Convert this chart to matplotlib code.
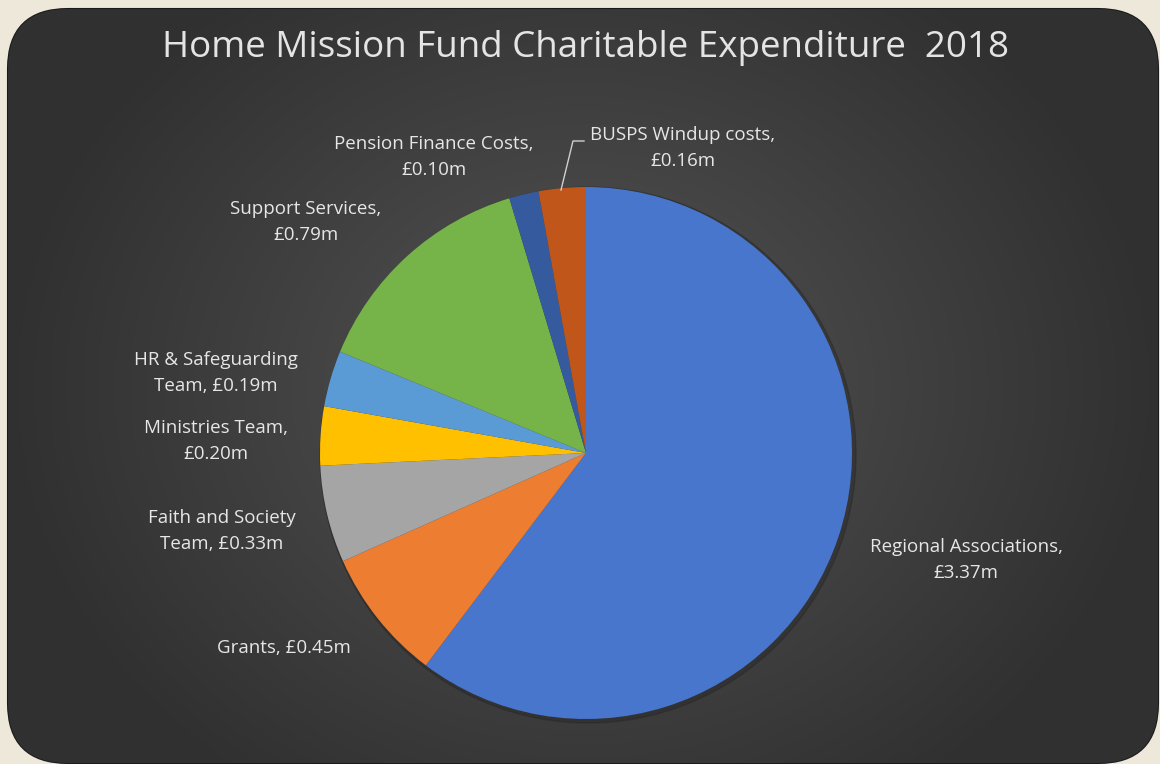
import numpy as np
import matplotlib
matplotlib.use("Agg")
import matplotlib.pyplot as plt
from matplotlib.patches import FancyBboxPatch

# data (in £m), clockwise from 12 o'clock
categories = ["Regional Associations", "Grants", "Faith and Society Team",
              "Ministries Team", "HR & Safeguarding Team", "Support Services",
              "Pension Finance Costs", "BUSPS Windup costs"]
values = [3.37, 0.45, 0.33, 0.20, 0.19, 0.79, 0.10, 0.16]
labels = ["Regional Associations,\n£3.37m", "Grants, £0.45m",
          "Faith and Society\nTeam, £0.33m", "Ministries Team,\n£0.20m",
          "HR & Safeguarding\nTeam, £0.19m", "Support Services,\n£0.79m",
          "Pension Finance Costs,\n£0.10m", "BUSPS Windup costs,\n£0.16m"]
colors = ["#4876CD", "#ED7D31", "#A5A5A5", "#FFC000",
          "#5B9BD5", "#76B44A", "#355A9E", "#C0561A"]
# label centres in pixels (x, y from top)
label_pos = [(966, 560), (284, 648), (222, 531), (216, 441),
             (216, 373), (306, 222), (434, 157), (683, 148)]

W, H = 1160, 764
fig = plt.figure(figsize=(11.6, 7.64), dpi=100)
fig.patch.set_facecolor("#eee8da")
ax = fig.add_axes([0, 0, 1, 1])

# rounded dark panel with soft radial gradient
box = FancyBboxPatch((8, 1), 1150, 754, boxstyle="round,pad=0,rounding_size=60",
                     facecolor="#3a3a3a", edgecolor="#1a1a1a", lw=1.5, zorder=1)
ax.add_patch(box)
gx, gy = np.meshgrid(np.linspace(-1, 1, 400), np.linspace(-1, 1, 300))
r = np.sqrt(gx ** 2 + (gy / 1.3) ** 2)
g = np.clip(1 - r, 0, 1)
shade = 0.19 + 0.14 * g
img = np.dstack([shade, shade, shade])
im = ax.imshow(img, extent=(8, 1158, 1, 755), origin="lower", aspect="auto", zorder=1.5)
im.set_clip_path(box)

# faint shadow behind the pie
shadow = plt.Circle((588, H - 455), 268, color="#222222", alpha=0.35, zorder=2)
ax.add_patch(shadow)

ax.pie(values, colors=colors, startangle=90, counterclock=False,
       center=(586, H - 453), radius=266, frame=True,
       wedgeprops=dict(edgecolor="none", zorder=3))
ax.set_xlim(0, W)
ax.set_ylim(0, H)
ax.set_aspect("auto")
ax.axis("off")

for lab, (px, py) in zip(labels, label_pos):
    ax.text(px, H - py, lab, ha="center", va="center", color="#e6e6e6",
            fontsize=13.5, family="Open Sans", linespacing=1.55, zorder=5)

# leader line for BUSPS
ax.plot([584, 573, 561], [H - 141, H - 141, H - 190], color="#d0d0d0", lw=1, zorder=4)

ax.text(585, H - 48, "Home Mission Fund Charitable Expenditure  2018",
        ha="center", va="center", color="#e4e4e4", fontsize=26.5,
        family="Open Sans", zorder=5)

fig.savefig("out.png", dpi=100, facecolor=fig.get_facecolor())
